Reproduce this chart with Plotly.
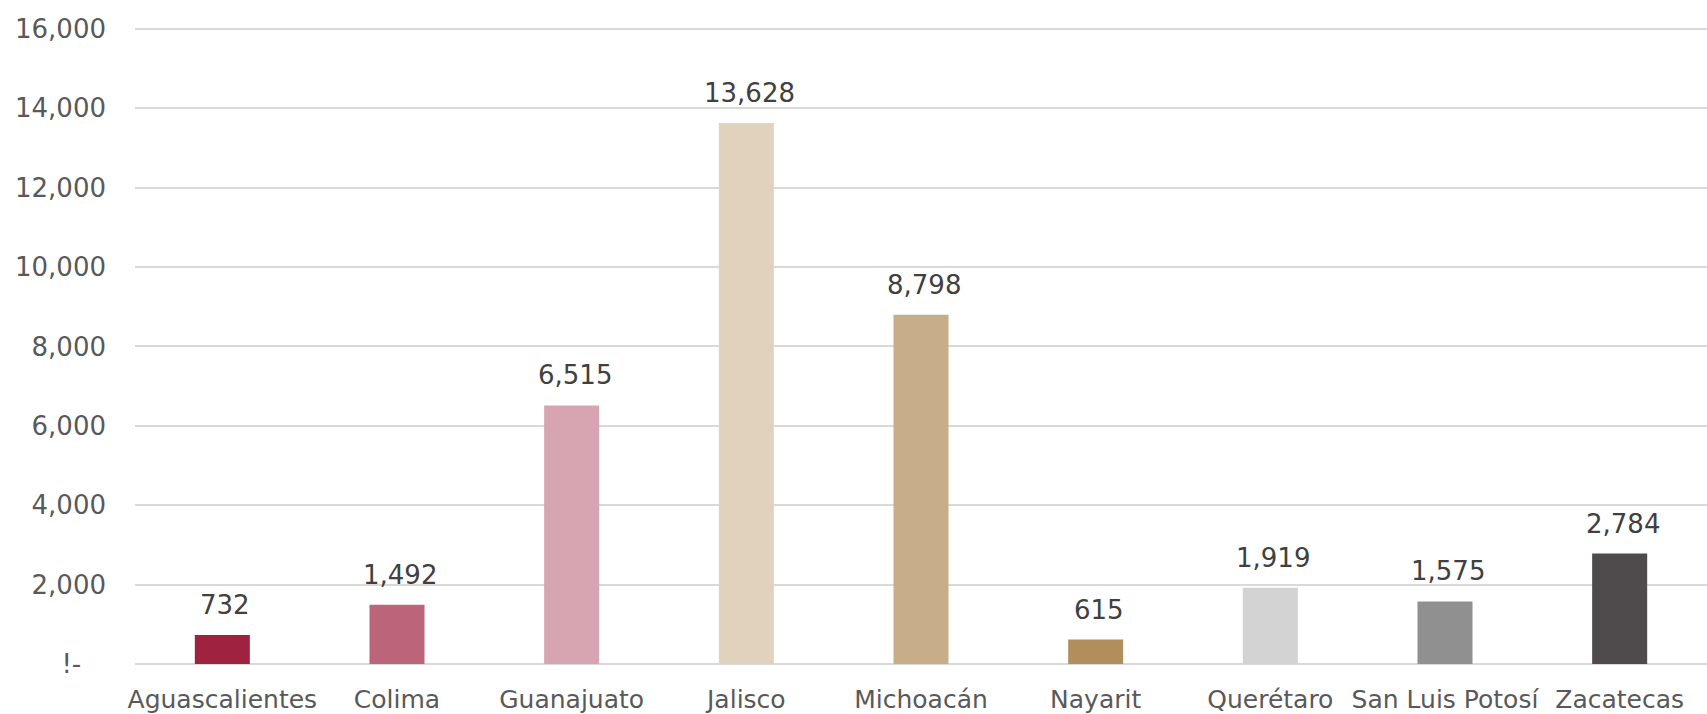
import plotly.graph_objects as go

states = ["Aguascalientes", "Colima", "Guanajuato", "Jalisco", "Michoacán",
          "Nayarit", "Querétaro", "San Luis Potosí", "Zacatecas"]
values = [732, 1492, 6515, 13628, 8798, 615, 1919, 1575, 2784]
colors = ["#9F2241", "#BC6479", "#D6A5B1", "#E1D2BD", "#C7AD88",
          "#B38E5D", "#D3D3D3", "#919090", "#4F4A4B"]
tick_vals = [0, 2000, 4000, 6000, 8000, 10000, 12000, 14000, 16000]
tick_text = ["!-\u00a0\u00a0\u00a0", "2,000", "4,000", "6,000", "8,000",
             "10,000", "12,000", "14,000", "16,000"]

FONT = "DejaVu Sans"

fig = go.Figure()
fig.add_trace(go.Bar(x=states, y=values, marker=dict(color=colors, line=dict(width=0)),
                     hoverinfo="skip"))

for s, v in zip(states, values):
    fig.add_annotation(x=s, y=v, text=f"{v:,}", showarrow=False,
                       yanchor="bottom", xanchor="center", yshift=13, xshift=3,
                       font=dict(family=FONT, size=26, color="#404040"))

fig.update_layout(
    width=1707, height=714,
    margin=dict(l=135, r=0, t=25, b=50),
    paper_bgcolor="white", plot_bgcolor="white",
    bargap=0.685,
    showlegend=False,
    font=dict(family=FONT, color="#595959"),
)
fig.update_xaxes(showgrid=False, showline=False, ticks="",
                 tickfont=dict(family=FONT, size=25, color="#595959"),
                 ticklabelstandoff=18, fixedrange=True)
fig.update_yaxes(range=[0, 16100], tickvals=tick_vals, ticktext=tick_text,
                 showgrid=True, gridcolor="#D9D9D9", gridwidth=2,
                 zeroline=True, zerolinecolor="#D9D9D9", zerolinewidth=2,
                 showline=False, ticks="",
                 tickfont=dict(family=FONT, size=26, color="#595959"),
                 ticklabelstandoff=28, fixedrange=True)

fig.write_html("out.html")
